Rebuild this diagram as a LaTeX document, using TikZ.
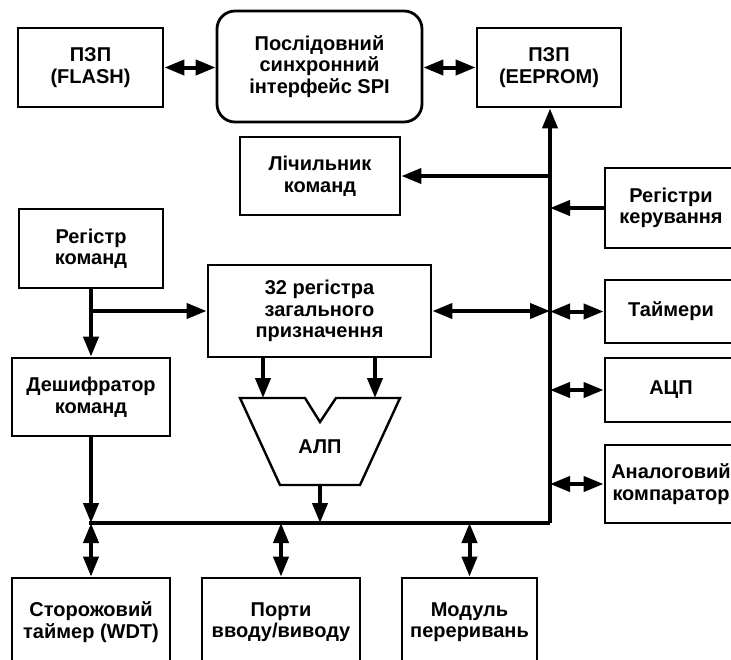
\documentclass[tikz,border=0pt]{standalone}
\usepackage{fontspec}
\setmainfont{Liberation Sans}
\usetikzlibrary{arrows.meta}
\tikzset{
  tip/.tip={Triangle[length=20pt,width=15pt]},
  box/.style={draw, line width=2.8pt, align=center, inner sep=0pt,
    font=\fontsize{20}{21.5}\selectfont\bfseries},
  spibox/.style={box, rounded corners=18pt},
  conn/.style={line width=4pt},
  arr/.style={conn, -tip},
  dbl/.style={conn, tip-tip},
  bus/.style={line width=4pt},
  aluline/.style={line width=2.4pt, line join=miter},
  lbl/.style={inner sep=0pt, font=\fontsize{20}{22}\selectfont\bfseries}
}
\begin{document}
\begin{tikzpicture}[x=1pt, y=-1pt]
\path[use as bounding box, clip] (0,0) rectangle (731,659);
\fill[white] (0,0) rectangle (731,659);
% boxes
\node[box, minimum width=145pt, minimum height=79pt] (flash) at (90.5,67.5) {ПЗП\\(FLASH)};
\node[spibox, minimum width=205pt, minimum height=111pt] (spi) at (319.5,66.5) {Послідовний\\синхронний\\інтерфейс SPI};
\node[box, minimum width=144pt, minimum height=79pt] (eeprom) at (549,67.5) {ПЗП\\(EEPROM)};
\node[box, minimum width=160pt, minimum height=78pt] (lich) at (320,176) {Лічильник\\команд};
\node[box, minimum width=132pt, minimum height=80pt] (regk) at (671,208) {Регістри\\керування};
\node[box, minimum width=144pt, minimum height=79pt] (rkom) at (91,248.5) {Регістр\\команд};
\node[box, minimum width=223pt, minimum height=92pt] (gpr) at (319.5,311) {32 регістра\\загального\\призначення};
\node[box, minimum width=132pt, minimum height=63pt] (taim) at (671,311.5) {Таймери};
\node[box, minimum width=132pt, minimum height=64pt] (adc) at (671,390) {АЦП};
\node[box, minimum width=132pt, minimum height=78pt] (comp) at (671,484) {Аналоговий\\компаратор};
\node[box, minimum width=158pt, minimum height=78pt] (desh) at (91,397) {Дешифратор\\команд};
\node[box, minimum width=158pt, minimum height=88pt] (wdt) at (91,622) {Сторожовий\\таймер (WDT)};
\node[box, minimum width=158pt, minimum height=88pt] (ports) at (281,622) {Порти\\вводу/виводу};
\node[box, minimum width=135pt, minimum height=88pt] (intr) at (469.5,622) {Модуль\\переривань};
% ALU
\draw[aluline] (240,398) -- (305,398) -- (320,422) -- (336,398) -- (400,398) -- (360,485) -- (280,485) -- cycle;
\node[lbl] (alu) at (320,447) {АЛП};
\coordinate (aluA) at (263,398);
\coordinate (aluB) at (375,398);
\coordinate (aluO) at (320,485);
% bus
\coordinate (bc) at (550,523);
\coordinate (bl) at (89,523);
\draw[bus] (bl) -- (bc);
\draw[bus, -tip] (bc) -- (bc |- eeprom.south);
% connectors
\draw[dbl] (flash.east) -- (flash.east -| spi.west);
\draw[dbl] (spi.east |- eeprom.west) -- (eeprom.west);
\draw[arr] (bc |- lich.east) -- (lich.east);
\draw[arr] (regk.west) -- (regk.west -| bc);
\draw[dbl] (gpr.east) -- (gpr.east -| bc);
\draw[dbl] (bc |- taim.west) -- (taim.west);
\draw[dbl] (bc |- adc.west) -- (adc.west);
\draw[dbl] (bc |- comp.west) -- (comp.west);
\draw[arr] (rkom.south) -- (desh.north);
\draw[arr] (rkom.south |- gpr.west) -- (gpr.west);
\draw[arr] (desh.south) -- (desh.south |- bc);
\draw[arr] (gpr.south -| aluA) -- (aluA);
\draw[arr] (gpr.south -| aluB) -- (aluB);
\draw[arr] (aluO) -- (aluO |- bc);
\draw[dbl] (wdt.north |- bc) -- (wdt.north);
\draw[dbl] (ports.north |- bc) -- (ports.north);
\draw[dbl] (intr.north |- bc) -- (intr.north);
\end{tikzpicture}
\end{document}
